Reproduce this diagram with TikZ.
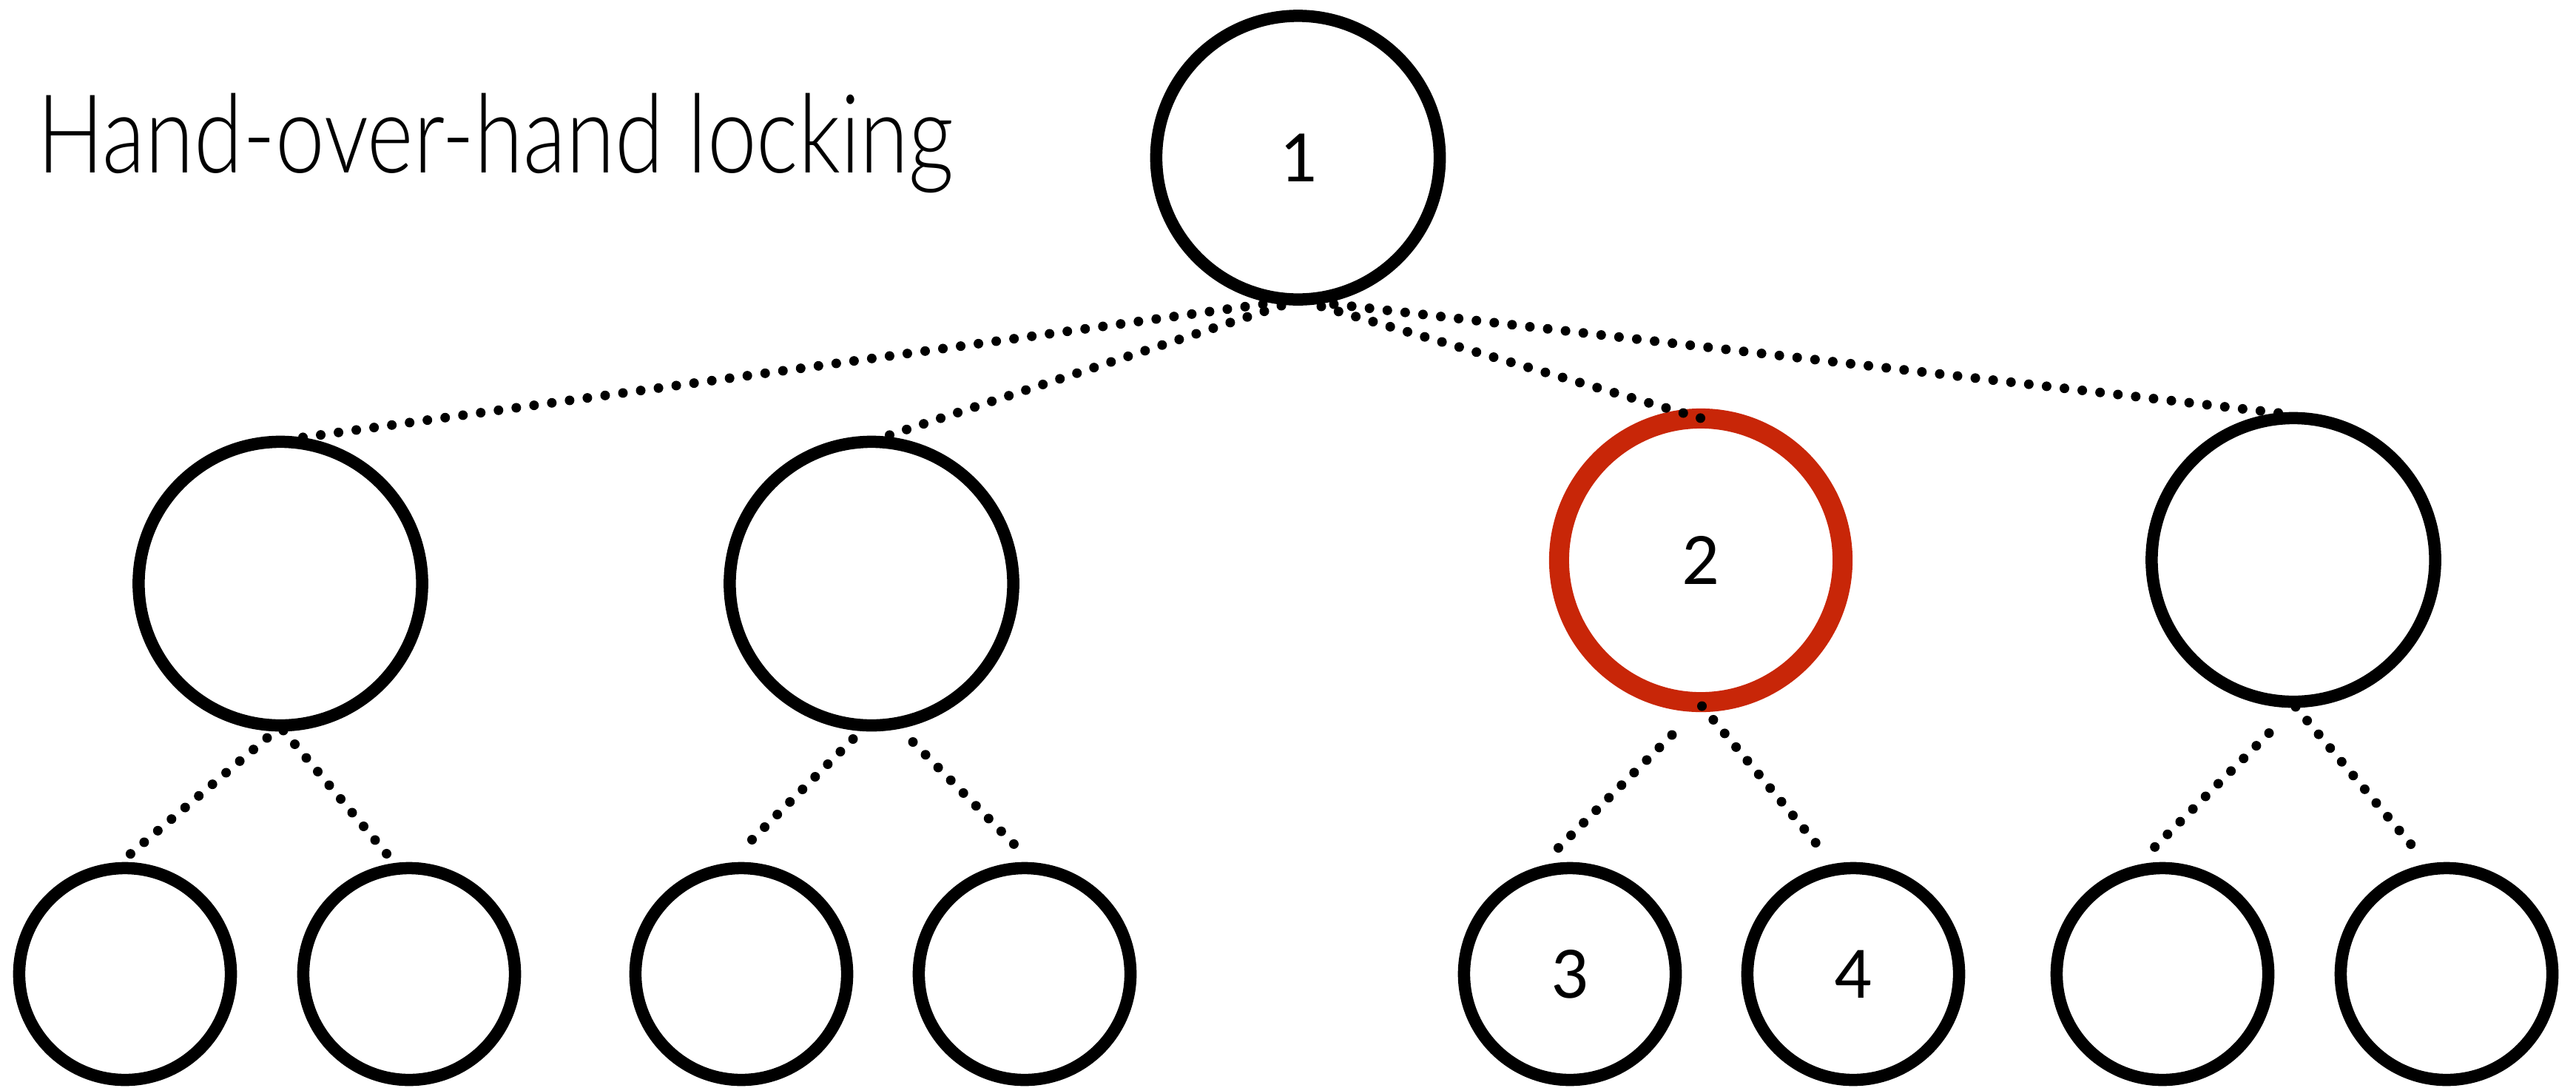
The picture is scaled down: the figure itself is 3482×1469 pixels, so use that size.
\documentclass[tikz,border=0pt]{standalone}
\usepackage{fontspec}
\setmainfont{Carlito}
\newfontfamily\titlefont{Lato}[UprightFont={* Light}]
\usetikzlibrary{calc}
\definecolor{lockred}{RGB}{200,38,8}

% dotted link whose dot spacing is evened out so that both ends get a dot
\newcommand\dotlink[2]{%
  \path let \p1=(#1), \p2=(#2), \n1={veclen(\x2-\x1,\y2-\y1)} in
    \pgfextra{\pgfmathsetmacro\dotgap{\n1/(max(1,round(\n1/6.914))+0.02)}%
              \xdef\dotgap{\dotgap}};
  \draw[dotline, dash pattern=on 0pt off \dotgap pt] (#1) -- (#2);}

\begin{document}
\begin{tikzpicture}[x=0.01cm, y=-0.01cm,
  treenode/.style={circle, draw=black, line width=0.165cm, inner sep=0pt,
    font=\fontsize{28.5}{34}\selectfont},
  bignode/.style={treenode, minimum size=3.83cm},
  leafnode/.style={treenode, minimum size=2.86cm},
  lockednode/.style={bignode, draw=lockred, line width=0.27cm},
  dotline/.style={line width=0.13cm, line cap=round}]

  % canvas
  \fill[white] (0,0) rectangle (3482,1469);
  \useasboundingbox (0,0) rectangle (3482,1469);

  % title
  \node[anchor=base west, inner sep=0pt, font=\titlefont\fontsize{42}{50}\selectfont]
    (title) at (50,233) {\scalebox{0.81}[1]{Hand-over-hand locking}};

  % root
  \node[bignode] (root) at (1754.5,213) {1};

  % second level
  \node[bignode]   (na) at (379,788.5)  {};
  \node[bignode]   (nb) at (1178,788.5) {};
  \node[lockednode] (nc) at (2299,757)  {2};
  \node[bignode]   (nd) at (3100,756.5) {};

  % leaves
  \node[leafnode] (la) at (169,1316)  {};
  \node[leafnode] (lb) at (553,1316)  {};
  \node[leafnode] (lc) at (1002,1316) {};
  \node[leafnode] (ld) at (1385,1316) {};
  \node[leafnode] (le) at (2122,1316) {3};
  \node[leafnode] (lf) at (2505,1316) {4};
  \node[leafnode] (lg) at (2923,1316) {};
  \node[leafnode] (lh) at (3307,1316) {};

  % root to second level
  \dotlink{[shift={(-47.5,198)}]root.center}{[shift={(30,-197.5)}]na.center}
  \dotlink{[shift={(-22.5,200)}]root.center}{[shift={(24,-200.5)}]nb.center}
  \dotlink{[shift={(31.5,201)}]root.center}{[shift={(0,-192)}]nc.center}
  \dotlink{[shift={(48.5,198)}]root.center}{[shift={(-20,-198.5)}]nd.center}

  % second level to leaves
  \dotlink{[shift={(-18,208.5)}]na.center}{[shift={(7,-162)}]la.center}
  \dotlink{[shift={(4,198.5)}]na.center}{[shift={(-30,-162)}]lb.center}
  \dotlink{[shift={(-25,210)}]nb.center}{[shift={(14,-181)}]lc.center}
  \dotlink{[shift={(56,214)}]nb.center}{[shift={(-14,-175)}]ld.center}
  \dotlink{[shift={(-39,236)}]nc.center}{[shift={(-16,-170)}]le.center}
  \dotlink{[shift={(1.5,197)}]nc.center}{[shift={(-50.5,-177)}]lf.center}
  \dotlink{[shift={(-33,234)}]nd.center}{[shift={(-11,-171)}]lg.center}
  \dotlink{[shift={(3,198.5)}]nd.center}{[shift={(-48,-175)}]lh.center}
\end{tikzpicture}
\end{document}
